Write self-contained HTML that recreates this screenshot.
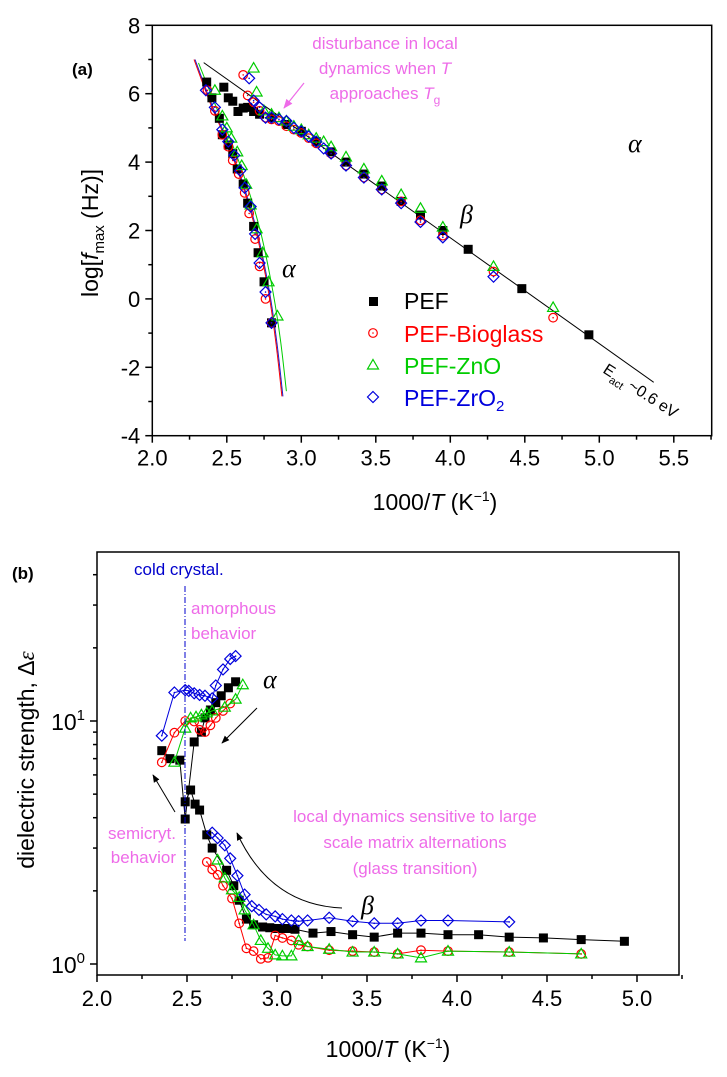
<!DOCTYPE html>
<html><head><meta charset="utf-8"><style>
body{margin:0;background:#fff;}
svg{display:block;font-family:"Liberation Sans",sans-serif;}
</style></head><body>
<svg id="fig" width="727" height="1077" viewBox="0 0 727 1077" xmlns="http://www.w3.org/2000/svg">
<defs>
<marker id="ah" viewBox="0 0 10 10" refX="9" refY="5" markerWidth="8" markerHeight="8" orient="auto"><path d="M0,1 L10,5 L0,9 z" fill="#000"/></marker>
<marker id="ahm" viewBox="0 0 10 10" refX="9" refY="5" markerWidth="8" markerHeight="8" orient="auto"><path d="M0,1 L10,5 L0,9 z" fill="#ee6be8"/></marker>
</defs>
<g id="pa"></g>
<g id="pb"></g>
</svg>
<script>
// ---------- Panel (a) data ----------
const aPEFx=[2.365,2.40,2.45,2.48,2.51,2.54,2.575,2.61,2.64,2.68,2.47,2.51,2.54,2.57,2.61,2.64,2.68,2.71,2.75,2.80,2.72,2.80,2.90,3.00,3.10,3.20,3.30,3.42,3.54,3.67,3.80,3.95,4.12,4.48,4.93];
const aPEFy=[6.34,5.88,5.28,6.19,5.88,5.78,5.48,5.58,5.60,5.48,4.80,4.50,4.25,3.80,3.36,2.80,2.12,1.35,0.50,-0.70,5.40,5.30,5.10,4.90,4.60,4.30,4.00,3.65,3.30,2.85,2.45,2.00,1.45,0.30,-1.05];
const aBGx=[2.37,2.42,2.47,2.51,2.54,2.58,2.62,2.65,2.69,2.72,2.76,2.80,2.61,2.64,2.68,2.72,2.76,2.80,2.85,2.90,2.95,3.00,3.05,3.10,3.20,3.30,3.42,3.54,3.67,3.80,3.95,4.29,4.69];
const aBGy=[6.10,5.50,4.80,4.45,4.05,3.65,3.10,2.50,1.75,0.95,0.00,-0.70,6.55,5.95,5.75,5.50,5.30,5.25,5.20,5.05,4.95,4.85,4.70,4.55,4.25,3.90,3.55,3.20,2.85,2.30,1.85,0.80,-0.55];
const aZnx=[2.42,2.47,2.50,2.53,2.57,2.60,2.63,2.66,2.70,2.74,2.78,2.84,2.68,2.70,2.75,2.80,2.85,2.90,2.95,3.00,3.05,3.10,3.15,3.20,3.30,3.42,3.54,3.67,3.80,3.95,4.29,4.69];
const aZny=[6.10,5.35,5.00,4.70,4.30,3.90,3.35,2.75,2.05,1.35,0.50,-0.50,6.75,6.05,5.50,5.40,5.30,5.20,5.05,4.95,4.80,4.70,4.60,4.45,4.15,3.80,3.45,3.05,2.65,2.10,0.95,-0.25];
const aZrx=[2.36,2.42,2.47,2.51,2.55,2.59,2.62,2.66,2.69,2.72,2.76,2.80,2.65,2.68,2.72,2.76,2.80,2.85,2.90,2.95,3.00,3.05,3.10,3.15,3.20,3.30,3.42,3.54,3.67,3.80,3.95,4.29];
const aZry=[6.10,5.60,4.95,4.60,4.20,3.75,3.25,2.70,1.90,1.05,0.20,-0.70,6.45,5.80,5.60,5.30,5.30,5.25,5.20,5.00,4.90,4.75,4.60,4.40,4.25,3.90,3.55,3.20,2.80,2.25,1.80,0.65];
const vftX=[2.28,2.40,2.50,2.60,2.70,2.78,2.83,2.87];
const vftY=[7.0,5.6,4.6,3.4,1.9,0.2,-1.3,-2.85];
const vftGX=[2.31,2.43,2.53,2.63,2.73,2.81,2.86,2.90];
const vftGY=[6.9,5.6,4.6,3.4,1.9,0.2,-1.2,-2.7];
const arrX=[2.345,5.365];
const arrY=[6.91,-2.44];
const aXTicks=["2.0","2.5","3.0","3.5","4.0","4.5","5.0","5.5"];
const aYTicks=["8","6","4","2","0","-2","-4"];

// ---------- Panel (b) data ----------
const bPEFax=[2.36,2.405,2.46,2.49,2.54,2.58,2.60,2.63,2.66,2.69,2.73,2.77];
const bPEFay=[7.55,7.0,6.9,3.95,8.2,9.0,10.3,11.1,11.9,12.7,13.7,14.5];
const bPEFbx=[2.49,2.52,2.545,2.57,2.61,2.64,2.72,2.76,2.79,2.83,2.87,2.92,2.96,3.00,3.05,3.10,3.20,3.30,3.42,3.54,3.67,3.80,3.95,4.12,4.29,4.48,4.69,4.93];
const bPEFby=[4.65,5.2,4.55,4.3,3.4,3.0,2.43,2.1,1.83,1.53,1.45,1.42,1.41,1.40,1.40,1.39,1.34,1.36,1.32,1.29,1.34,1.34,1.32,1.32,1.29,1.28,1.26,1.24];
const bBGax=[2.36,2.43,2.49,2.54,2.57,2.60,2.63,2.66,2.70,2.74];
const bBGay=[6.76,8.95,10.0,9.95,9.2,9.0,9.6,10.3,11.0,11.8];
const bBGbx=[2.61,2.64,2.67,2.70,2.75,2.79,2.83,2.87,2.91,2.95,2.99,3.03,3.08,3.12,3.17,3.29,3.42,3.54,3.67,3.80,3.95,4.29,4.69];
const bBGby=[2.63,2.45,2.33,2.1,1.86,1.47,1.16,1.13,1.05,1.06,1.31,1.28,1.25,1.2,1.18,1.14,1.13,1.12,1.1,1.14,1.13,1.12,1.1];
const bZnax=[2.43,2.49,2.52,2.55,2.58,2.61,2.64,2.71,2.77,2.81];
const bZnay=[6.77,9.35,10.3,10.4,10.6,10.8,11.0,11.4,12.3,14.1];
const bZnbx=[2.67,2.71,2.75,2.79,2.82,2.87,2.91,2.95,2.99,3.03,3.08,3.12,3.17,3.29,3.42,3.54,3.67,3.80,3.95,4.29,4.69];
const bZnby=[2.68,2.26,2.02,1.88,1.67,1.45,1.25,1.16,1.09,1.08,1.08,1.25,1.18,1.15,1.12,1.12,1.1,1.06,1.13,1.12,1.1];
const bZrax=[2.36,2.43,2.49,2.51,2.54,2.57,2.60,2.64,2.66,2.70,2.74,2.77];
const bZray=[8.7,13.1,13.4,13.3,13.0,12.8,12.7,12.4,14.0,16.3,18.0,18.5];
const bZrbx=[2.64,2.67,2.71,2.74,2.78,2.82,2.86,2.90,2.94,2.99,3.03,3.08,3.12,3.17,3.29,3.42,3.54,3.67,3.80,3.95,4.29];
const bZrby=[3.47,3.3,3.08,2.72,2.31,1.93,1.73,1.67,1.6,1.57,1.53,1.51,1.5,1.51,1.55,1.5,1.47,1.47,1.51,1.51,1.49];
const bXTicks=["2.0","2.5","3.0","3.5","4.0","4.5","5.0"];

const NS="http://www.w3.org/2000/svg";
function mk(tag,attrs,parent,txt){const e=document.createElementNS(NS,tag);for(const k in attrs)e.setAttribute(k,attrs[k]);if(txt!==undefined)e.textContent=txt;parent.appendChild(e);return e;}

// ---------- Panel (a) ----------
const pa=document.getElementById('pa');
const AL=152.3,AR=711.7,AT=25.3,AB=435.7;
const ax=v=>AL+(v-2)*149;
const ay=v=>AB-(v+4)*34.2;
let fr=mk('rect',{x:AL,y:AT,width:AR-AL,height:AB-AT,fill:'none',stroke:'#000','stroke-width':1.5},pa);


aXTicks.forEach((t,i)=>{const v=2+i*0.5;
 const l=mk('line',{x1:ax(v),x2:ax(v),y1:AB,y2:AB+7,stroke:'#000','stroke-width':1.5},pa);
 
 
 const m=mk('line',{x1:ax(v+0.25),x2:ax(v+0.25),y1:AB,y2:AB+4,stroke:'#000','stroke-width':1.5},pa);
 
 
 const tx=mk('text',{x:ax(v),y:AB+30,'font-size':22,'text-anchor':'middle'},pa,t);
 
 
});
aYTicks.forEach(t=>{const v=+t;
 const l=mk('line',{x1:AL-7,x2:AL,y1:ay(v),y2:ay(v),stroke:'#000','stroke-width':1.5},pa);
 
 
 if(v>-4){const m=mk('line',{x1:AL-4,x2:AL,y1:ay(v-1),y2:ay(v-1),stroke:'#000','stroke-width':1.5},pa);
 
 }
 const tx=mk('text',{x:AL-12,y:ay(v)+8,'font-size':22,'text-anchor':'end'},pa,t);
 
 
});
function path(xs,ys,fx,fy){return xs.map((x,i)=>(i?'L':'M')+fx(x).toFixed(1)+','+fy(ys[i]).toFixed(1)).join(' ');}
function smooth(xs,ys,fx,fy){let d='M'+fx(xs[0])+','+fy(ys[0]);for(let i=1;i<xs.length;i++){const x0=fx(xs[i-1]),y0=fy(ys[i-1]),x1=fx(xs[i]),y1=fy(ys[i]);const xp=i>1?fx(xs[i-2]):x0,yp=i>1?fy(ys[i-2]):y0;const xn=i<xs.length-1?fx(xs[i+1]):x1,yn=i<xs.length-1?fy(ys[i+1]):y1;d+=' C'+(x0+(x1-xp)/6)+','+(y0+(y1-yp)/6)+' '+(x1-(xn-x0)/6)+','+(y1-(yn-y0)/6)+' '+x1+','+y1;}return d;}
let f1=mk('path',{d:smooth(vftGX,vftGY,ax,ay),fill:'none',stroke:'#00cc00','stroke-width':1},pa);


let f2=mk('path',{d:smooth(vftX,vftY,ax,ay),fill:'none',stroke:'#ff0000','stroke-width':1},pa);


let f3=mk('path',{d:smooth(vftX,vftY.map(v=>v),v=>ax(v)+1,ay),fill:'none',stroke:'#2020cc','stroke-width':1},pa);


let f4=mk('path',{d:path(arrX,arrY,ax,ay),fill:'none',stroke:'#000','stroke-width':1},pa);



function marker(g,type,x,y,s){
 let e;
 if(type==='sq'){e=mk('rect',{x:x-4.5,y:y-4.5,width:9,height:9,fill:'#000'},g);}
 else if(type==='ci'){e=mk('circle',{cx:x,cy:y,r:4.3,fill:'none',stroke:'#ff0000','stroke-width':1.2},g);mk('circle',{cx:x,cy:y,r:0.8,fill:'#ff0000'},g);}
 else if(type==='tr'){e=mk('path',{d:`M${x},${y-5.5} L${x+5.5},${y+4} L${x-5.5},${y+4} Z`,fill:'none',stroke:'#00cc00','stroke-width':1.2},g);}
 else {e=mk('path',{d:`M${x},${y-5.5} L${x+5.5},${y} L${x},${y+5.5} L${x-5.5},${y} Z`,fill:'none',stroke:'#0000dd','stroke-width':1.2},g);mk('circle',{cx:x,cy:y,r:0.8,fill:'#0000dd'},g);}
 return e;
}
const seriesA=[['sq',aPEFx,aPEFy,'pef'],['ci',aBGx,aBGy,'bioglass'],['tr',aZnx,aZny,'zno'],['di',aZrx,aZry,'zro2']];
seriesA.forEach(s=>{const g=mk('g',{},pa);
 
 
 s[1].forEach((x,i)=>{const p=marker(g,s[0],ax(x),ay(s[2][i]));
 
 });
});
</script>
<script>
// static annotations panel a
(function(){
const pa=document.getElementById('pa');
pa.insertAdjacentHTML('beforeend',`
<text x="72" y="75" font-size="17" font-weight="bold">(a)</text>
<text transform="translate(98,233) rotate(-90)" font-size="23" text-anchor="middle">log[<tspan font-style="italic">f</tspan><tspan font-size="15" dy="6">max</tspan><tspan dy="-6"> (Hz)]</tspan></text>
<text x="435" y="510" font-size="23" text-anchor="middle">1000/<tspan font-style="italic">T</tspan> (K<tspan font-size="14" dy="-9">−1</tspan><tspan dy="9">)</tspan></text>
<g fill="#ee6be8" font-size="17" text-anchor="middle">
<text x="385" y="49">disturbance in local</text>
<text x="385" y="74">dynamics when <tspan font-style="italic">T</tspan></text>
<text x="385" y="99">approaches <tspan font-style="italic">T</tspan><tspan font-size="12" dy="5">g</tspan></text>
</g>
<line x1="304" y1="83" x2="284" y2="108" stroke="#ee6be8" stroke-width="1.2" marker-end="url(#ahm)"/>
<text x="628" y="152" font-size="26" font-style="italic" font-family="Liberation Serif,serif">α</text>
<text x="460" y="223" font-size="26" font-style="italic" font-family="Liberation Serif,serif">β</text>
<text x="282" y="277" font-size="26" font-style="italic" font-family="Liberation Serif,serif">α</text>
<text transform="translate(602,372) rotate(33)" font-size="16">E<tspan font-size="11" dy="5">act</tspan><tspan dy="-5"> ~0.6 eV</tspan></text>
<g font-size="23">
<rect x="369" y="297" width="9" height="9" fill="#000"/><text x="404" y="309" fill="#000">PEF</text>
<circle cx="373" cy="333" r="4.3" fill="none" stroke="#f00" stroke-width="1.2"/><circle cx="373" cy="333" r="0.8" fill="#f00"/><text x="404" y="342" fill="#f00">PEF-Bioglass</text>
<path d="M373,359.5 L378.5,369 L367.5,369 Z" fill="none" stroke="#0c0" stroke-width="1.2"/><text x="404" y="374" fill="#0c0">PEF-ZnO</text>
<path d="M373,391.5 L378.5,397 L373,402.5 L367.5,397 Z" fill="none" stroke="#00d" stroke-width="1.2"/><text x="404" y="406" fill="#00d">PEF-ZrO<tspan font-size="15" dy="5">2</tspan></text>
</g>`);
})();
</script>
<script>
// ---------- Panel (b) ----------
const pb=document.getElementById('pb');
const BL=97,BR=679,BT=552,BB=975;
const bx=v=>BL+(v-2)*180;
const by=v=>964-Math.log10(v)*243;
let frb=mk('rect',{x:BL,y:BT,width:BR-BL,height:BB-BT,fill:'none',stroke:'#000','stroke-width':1.5},pb);


bXTicks.forEach((t,i)=>{const v=2+i*0.5;
 const l=mk('line',{x1:bx(v),x2:bx(v),y1:BB,y2:BB+7,stroke:'#000','stroke-width':1.5},pb);
 
 
 const m=mk('line',{x1:bx(v+0.25),x2:bx(v+0.25),y1:BB,y2:BB+4,stroke:'#000','stroke-width':1.5},pb);
 
 
 const tx=mk('text',{x:bx(v),y:BB+31,'font-size':22,'text-anchor':'middle'},pb,t);
 
 
});
[1,2,3,4,5,6,7,8,9,10,20,30,40].forEach(v=>{const major=(v===1||v===10);
 const l=mk('line',{x1:BL-(major?7:4),x2:BL,y1:by(v),y2:by(v),stroke:'#000','stroke-width':1.5},pb);
 
 
});
[['0',1],['1',10]].forEach(p=>{const t=mk('text',{x:BL-12,y:by(p[1])+9,'font-size':23,'text-anchor':'end'},pb);
 
 
 t.innerHTML='10<tspan font-size="15" dy="-10">'+p[0]+'</tspan>';});
const seriesB=[
 ['sq',bPEFax,bPEFay,'#000','pef-alpha'],['sq',bPEFbx,bPEFby,'#000','pef-beta'],
 ['ci',bBGax,bBGay,'#ff0000','bioglass-alpha'],['ci',bBGbx,bBGby,'#ff0000','bioglass-beta'],
 ['tr',bZnax,bZnay,'#00cc00','zno-alpha'],['tr',bZnbx,bZnby,'#00cc00','zno-beta'],
 ['di',bZrax,bZray,'#0000dd','zro2-alpha'],['di',bZrbx,bZrby,'#0000dd','zro2-beta']];
seriesB.forEach(s=>{const g=mk('g',{},pb);
 
 
 const ln=mk('path',{d:path(s[1],s[2],bx,by),fill:'none',stroke:s[3],'stroke-width':1},g);
 
 
 s[1].forEach((x,i)=>{const p=marker(g,s[0],bx(x),by(s[2][i]));
 
 });
});
pb.insertAdjacentHTML('beforeend',`
<text x="12" y="579" font-size="17" font-weight="bold">(b)</text>
<text transform="translate(34,760) rotate(-90)" font-size="23" text-anchor="middle">dielectric strength, Δ<tspan font-style="italic" font-family="Liberation Serif,serif">ε</tspan></text>
<text x="388" y="1057" font-size="23" text-anchor="middle">1000/<tspan font-style="italic">T</tspan> (K<tspan font-size="14" dy="-9">−1</tspan><tspan dy="9">)</tspan></text>
<text x="134" y="575" font-size="17" fill="#0000cc">cold crystal.</text>
<line x1="185" y1="586" x2="185" y2="941" stroke="#0000cc" stroke-width="1" stroke-dasharray="6,2,1,2"/>
<text x="191" y="614" font-size="17" fill="#ee6be8">amorphous</text>
<text x="191" y="639" font-size="17" fill="#ee6be8">behavior</text>
<text x="263" y="688" font-size="26" font-style="italic" font-family="Liberation Serif,serif">α</text>
<line x1="257" y1="708" x2="222" y2="743" stroke="#000" stroke-width="1" marker-end="url(#ah)"/>
<text x="176" y="839" font-size="17" fill="#ee6be8" text-anchor="end">semicryt.</text>
<text x="176" y="863" font-size="17" fill="#ee6be8" text-anchor="end">behavior</text>
<line x1="175" y1="812" x2="153" y2="775" stroke="#000" stroke-width="1" marker-end="url(#ah)"/>
<g font-size="17" fill="#ee6be8" text-anchor="middle">
<text x="415" y="822">local dynamics sensitive to large</text>
<text x="415" y="848">scale matrix alternations</text>
<text x="415" y="874">(glass transition)</text>
</g>
<path d="M342,908 Q270,905 237,833" fill="none" stroke="#000" stroke-width="1" marker-end="url(#ah)"/>
<text x="361" y="914" font-size="26" font-style="italic" font-family="Liberation Serif,serif">β</text>
`);
</script>
</body></html>
